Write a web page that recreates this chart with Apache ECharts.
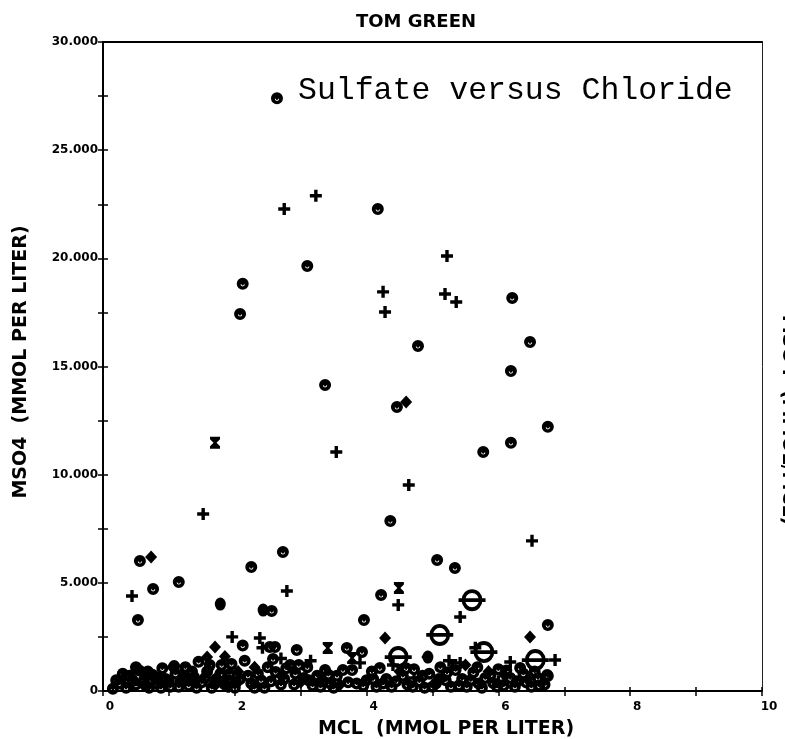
<!DOCTYPE html>
<html>
<head>
<meta charset="utf-8">
<script src="https://cdn.jsdelivr.net/npm/echarts@6/dist/echarts.min.js"></script>
<style>
html,body{margin:0;padding:0;background:#fff;}
#chart{width:785px;height:739px;}
</style>
</head>
<body>
<div id="chart"></div>
<script>
// ---- Data (MCL, MSO4) in mmol per liter ----
var chartTitle = 'TOM GREEN';
var xAxisName = 'MCL  (MMOL PER LITER)';
var yAxisName = 'MSO4  (MMOL PER LITER)';
var annotation = 'Sulfate versus Chloride';
var xTickLabels = ['0', '2', '4', '6', '8', '10'];
var yTickLabels = ['0', '5.000', '10.000', '15.000', '20.000', '25.000', '30.000'];

var circlePoints = [
  [2.64,27.4],[2.12,18.82],[2.08,17.43],[3.10,19.65],[3.37,14.15],[4.17,22.28],[4.46,13.13],
  [6.21,18.17],[4.78,15.95],[6.48,16.13],[6.19,14.79],[6.75,12.21],[6.19,11.47],[5.77,11.05],
  [4.36,7.86],[0.56,6.01],[0.76,4.72],[1.15,5.04],[2.25,5.73],[2.73,6.43],[4.22,4.44],
  [5.07,6.06],[5.34,5.69],[0.53,3.28],[6.75,3.05],[6.75,0.69],[2.56,3.70],[3.96,3.28],
  [0.15,0.1],[0.25,0.35],[0.35,0.15],[0.4,0.7],[0.5,0.3],[0.55,0.95],[0.62,0.5],[0.7,0.15],
  [0.75,0.75],[0.82,0.35],[0.9,1.05],[0.95,0.55],[1.02,0.2],[1.1,0.8],[1.18,0.45],[1.25,1.1],
  [1.3,0.25],[1.38,0.65],[1.45,1.35],[1.5,0.4],[1.58,0.9],[1.65,0.15],[1.72,0.55],[1.8,1.2],
  [1.85,0.3],[1.92,0.8],[2.0,0.15],[2.08,0.55],[2.15,1.4],[2.12,2.1],[2.25,0.35],[2.35,0.8],
  [2.45,0.15],[2.53,2.03],[2.61,2.03],[2.58,1.48],[2.62,0.88],[2.7,0.3],[2.78,1.05],[2.84,1.2],
  [2.94,1.9],[2.97,1.2],[3.05,0.6],[3.1,1.1],[3.18,0.25],[3.25,0.7],[3.37,0.97],[3.45,0.35],
  [3.55,0.7],[3.64,0.97],[3.7,1.99],[3.78,0.97],[3.85,0.35],[3.93,1.8],[4.0,0.5],[4.08,0.9],
  [4.15,0.2],[4.2,1.06],[4.3,0.55],[4.38,0.2],[4.55,0.7],[4.62,0.3],[4.72,1.0],[4.8,0.45],
  [4.88,0.15],[4.95,0.8],[5.05,0.35],[5.12,1.1],[5.2,0.5],[5.28,0.2],[5.35,0.97],[5.45,0.55],
  [5.52,0.2],[5.62,0.85],[5.7,0.35],[5.8,0.6],[5.92,0.37],[6.0,1.0],[6.08,0.25],[6.18,0.6],
  [6.25,0.2],[6.33,1.06],[6.42,0.4],[6.55,0.9],[6.62,0.25],[6.74,0.74],
  [0.2,0.5],[0.3,0.8],[0.45,0.5],[0.5,1.1],[0.65,0.25],[0.68,0.9],[0.8,0.55],[0.88,0.15],
  [1.0,0.45],[1.08,1.15],[1.15,0.2],[1.22,0.6],[1.35,0.9],[1.42,0.15],[1.55,0.6],[1.62,1.2],
  [1.7,0.35],[1.78,0.8],[1.9,0.5],[1.95,1.25],[2.02,0.4],[2.2,0.7],[2.3,0.15],[2.4,0.5],
  [2.5,1.1],[2.55,0.45],[2.75,0.55],[2.9,0.3],[2.92,0.8],[3.12,0.5],[3.3,0.2],[3.42,0.75],
  [3.5,0.15],[3.72,0.4],[3.95,0.25],[4.1,0.55],[4.25,0.35],[4.45,0.45],[4.6,1.05],[4.7,0.2],
  [4.85,0.7],[5.0,0.2],[5.1,0.55],[5.22,0.85],[5.4,0.25],[5.58,0.5],[5.68,1.1],[5.75,0.15],
  [5.88,0.75],[5.98,0.2],[6.12,0.95],[6.28,0.45],[6.38,0.8],[6.5,0.2],[6.6,0.6],[6.7,0.3]
];
var plusPoints = [
  [2.75,22.28],[3.23,22.89],[4.25,18.45],[4.28,17.52],[3.54,11.05],[5.22,20.11],[5.19,18.35],
  [5.36,17.98],[4.64,9.52],[1.52,8.18],[0.44,4.39],[2.79,4.62],[6.51,6.94],[4.48,3.98],
  [5.42,3.42],[1.96,2.5],
  [0.45,0.3],[1.2,0.9],[1.9,0.2],[2.38,2.45],[2.42,2.0],[2.7,1.5],[3.15,1.4],[3.9,1.3],
  [4.4,1.2],[4.72,0.6],[5.25,1.4],[5.42,1.3],[5.65,2.0],[6.18,1.34],[6.86,1.43],[6.0,0.45]
];
var diamondPoints = [
  [0.73,6.19],[4.6,13.36],
  [0.3,0.55],[0.6,0.85],[0.85,0.65],[1.05,1.1],[1.4,0.6],[1.6,1.0],[1.70,2.03],[1.58,1.57],
  [1.85,1.6],[2.05,0.9],[2.3,1.1],[2.7,0.7],[3.0,0.4],[3.3,0.5],[3.6,0.3],[4.28,2.45],
  [4.5,0.9],[4.92,1.57],[5.15,0.6],[5.5,1.2],[5.85,0.9],[6.1,0.7],[6.48,2.5],[6.45,0.55]
];
var hourglassPoints = [[1.70,11.47],[4.49,4.76],[3.41,1.99],[3.78,1.53],[5.3,1.2]];
var thetaPoints = [[5.60,4.2],[5.11,2.59],[4.48,1.57],[5.78,1.8],[6.56,1.43]];
var dotPoints = [[1.78,4.02],[2.43,3.74],[4.93,1.57]];

// ---- Symbols ----
var symCircle = 'path://M0,-10 A10,10 0 1,1 0,10 A10,10 0 1,1 0,-10 Z M-3.6,0.8 A3.6,3.6 0 0,0 3.6,0.8 L2.0,0.8 A2.0,2.0 0 0,1 -2.0,0.8 Z';
var symPlus = 'path://M-1.7,-6 L1.7,-6 L1.7,-1.7 L6,-1.7 L6,1.7 L1.7,1.7 L1.7,6 L-1.7,6 L-1.7,1.7 L-6,1.7 L-6,-1.7 L-1.7,-1.7 Z';
var symHour = 'path://M-5,-6 L5,-6 L5,-3.5 L1.5,0 L5,3.5 L5,6 L-5,6 L-5,3.5 L-1.5,0 L-5,-3.5 Z';
var symTheta = 'path://M0,-10 A10,10 0 1,1 0,10 A10,10 0 1,1 0,-10 Z M0,-6.5 A6.5,6.5 0 1,0 0,6.5 A6.5,6.5 0 1,0 0,-6.5 Z M-13,-1.7 L13,-1.7 L13,1.7 L-13,1.7 Z';

var black = '#000';
var chart = echarts.init(document.getElementById('chart'), null, {renderer: 'canvas'});

function scatter(name, data, symbol, size) {
  return {
    name: name, type: 'scatter', data: data, symbol: symbol, symbolSize: size,
    xAxisIndex: 0, yAxisIndex: 0,
    itemStyle: {color: black, opacity: 1}, silent: true, animation: false
  };
}

var labelFont = {fontFamily: 'DejaVu Sans', fontWeight: 'bold', fontSize: 12, color: black};

var option = {
  backgroundColor: '#fff',
  animation: false,
  grid: {left: 103, right: 23, top: 42, bottom: 48, containLabel: false},
  xAxis: [
    {
      type: 'value', min: 0, max: 10, interval: 1, position: 'bottom',
      axisLine: {show: true, onZero: false, lineStyle: {color: black, width: 2}},
      axisTick: {show: true, inside: false, length: 5, lineStyle: {color: black, width: 1.5}},
      axisLabel: Object.assign({
        margin: 10, padding: [0, 0, 0, 14],
        formatter: function (v) {
          var s = String(Math.round(v));
          return xTickLabels.indexOf(s) >= 0 && Math.round(v) % 2 === 0 ? s : '';
        }
      }, labelFont),
      splitLine: {show: false}
    },
    {
      type: 'value', min: 0, max: 10, interval: 1, position: 'bottom',
      axisLine: {show: false, onZero: false},
      axisTick: {show: true, inside: true, length: 4, lineStyle: {color: black, width: 1.5}},
      axisLabel: {show: false}, splitLine: {show: false}
    },
    {
      type: 'value', min: 0, max: 10, position: 'top',
      axisLine: {show: true, onZero: false, lineStyle: {color: black, width: 2}},
      axisTick: {show: false}, axisLabel: {show: false}, splitLine: {show: false}
    }
  ],
  yAxis: [
    {
      type: 'value', min: 0, max: 30, interval: 2.5, position: 'left',
      axisLine: {show: true, onZero: false, lineStyle: {color: black, width: 2}},
      axisTick: {show: true, inside: false, length: 5, lineStyle: {color: black, width: 1.5}},
      axisLabel: Object.assign({
        margin: 5,
        formatter: function (v) {
          if (Math.abs(v / 5 - Math.round(v / 5)) > 1e-6) return '';
          return yTickLabels[Math.round(v / 5)];
        }
      }, labelFont),
      splitLine: {show: false}
    },
    {
      type: 'value', min: 0, max: 30, interval: 2.5, position: 'left',
      axisLine: {show: false, onZero: false},
      axisTick: {show: true, inside: true, length: 5, lineStyle: {color: black, width: 1.5}},
      axisLabel: {show: false}, splitLine: {show: false}
    },
    {
      type: 'value', min: 0, max: 30, position: 'right',
      axisLine: {show: true, onZero: false, lineStyle: {color: '#222', width: 1}},
      axisTick: {show: false}, axisLabel: {show: false}, splitLine: {show: false}
    }
  ],
  series: [
    scatter('circle', circlePoints, symCircle, 12),
    scatter('plus', plusPoints, symPlus, 12),
    scatter('diamond', diamondPoints, 'diamond', [12, 13]),
    scatter('hourglass', hourglassPoints, symHour, [10, 12]),
    scatter('theta', thetaPoints, symTheta, [27, 22]),
    scatter('dot', dotPoints, 'circle', [11, 13])
  ],
  graphic: [
    {
      type: 'text', x: 416, y: 22, silent: true,
      style: {text: chartTitle, fill: black, font: 'bold 18px "DejaVu Sans"', textAlign: 'center', textVerticalAlign: 'middle'}
    },
    {
      type: 'text', x: 298, y: 91, silent: true,
      style: {text: annotation, fill: black, font: '31.5px "Liberation Mono"', textAlign: 'left', textVerticalAlign: 'middle'}
    },
    {
      type: 'text', x: 446, y: 729, silent: true,
      style: {text: xAxisName, fill: black, font: 'bold 19px "DejaVu Sans"', textAlign: 'center', textVerticalAlign: 'middle'}
    },
    {
      type: 'text', x: 21, y: 362, rotation: Math.PI / 2, silent: true,
      style: {text: yAxisName, fill: black, font: 'bold 19px "DejaVu Sans"', textAlign: 'center', textVerticalAlign: 'middle'}
    },
    {
      type: 'text', x: 788, y: 420, rotation: -Math.PI / 2, silent: true,
      style: {text: 'MSO4  (MMOL/MCL)', fill: black, font: 'bold 19px "DejaVu Sans"', textAlign: 'center', textVerticalAlign: 'middle'}
    }
  ]
};
chart.setOption(option);
</script>
</body>
</html>
